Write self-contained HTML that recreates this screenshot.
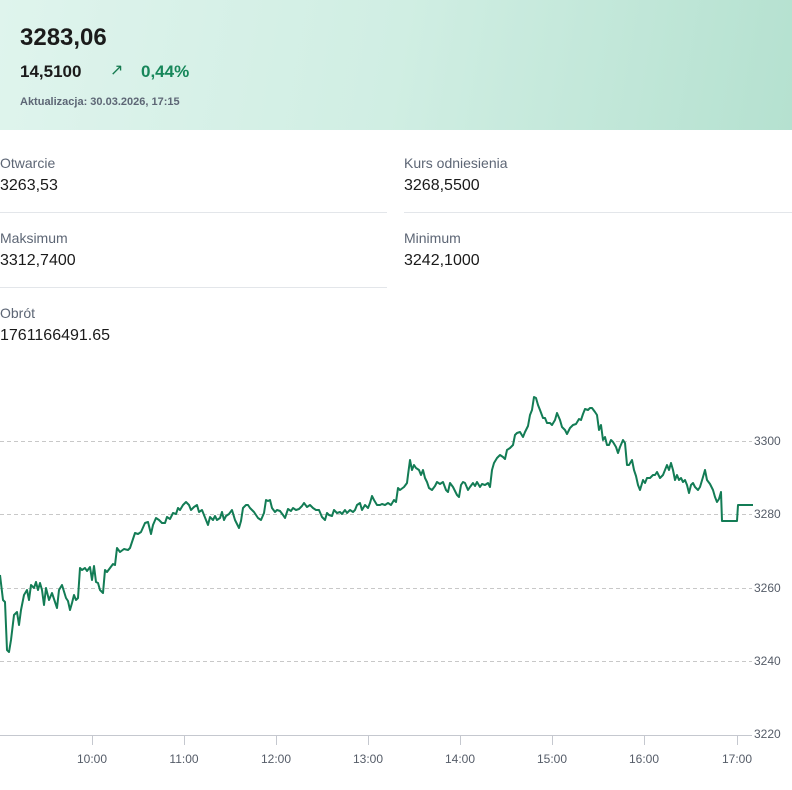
<!DOCTYPE html>
<html><head><meta charset="utf-8"><style>
body{margin:0;width:792px;height:790px;background:#fff;font-family:"Liberation Sans",sans-serif;overflow:hidden;position:relative}
.hdr{position:absolute;left:0;top:0;width:792px;height:130px;background:linear-gradient(100deg,#dff4ed 0%,#d0eee3 50%,#b5e1d0 100%)}
.t{position:absolute;white-space:nowrap}
.lbl{color:#5d6675;font-size:14px}
.val{color:#1a1a1a;font-size:16px}
.ln{position:absolute;height:1px;background:#e3e6ea}
</style></head><body>
<div class="hdr">
<div class="t" style="left:20px;top:24px;font-size:24px;font-weight:bold;color:#1b1b1b">3283,06</div>
<div class="t" style="left:20px;top:62px;font-size:17px;font-weight:bold;color:#1b1b1b">14,5100</div>
<div class="t" style="left:110px;top:60px;font-size:16px;color:#157a4f">↗</div>
<div class="t" style="left:141px;top:62px;font-size:17px;font-weight:bold;color:#17875a">0,44%</div>
<div class="t" style="left:20px;top:96px;font-size:11px;font-weight:bold;color:#5d6675">Aktualizacja: 30.03.2026, 17:15</div>
</div>
<div class="t lbl" style="left:0;top:155px">Otwarcie</div>
<div class="t val" style="left:0;top:177px">3263,53</div>
<div class="t lbl" style="left:404px;top:155px">Kurs odniesienia</div>
<div class="t val" style="left:404px;top:177px">3268,5500</div>
<div class="ln" style="left:0;top:212px;width:387px"></div>
<div class="ln" style="left:404px;top:212px;width:388px"></div>
<div class="t lbl" style="left:0;top:230px">Maksimum</div>
<div class="t val" style="left:0;top:252px">3312,7400</div>
<div class="t lbl" style="left:404px;top:230px">Minimum</div>
<div class="t val" style="left:404px;top:252px">3242,1000</div>
<div class="ln" style="left:0;top:287px;width:387px"></div>
<div class="t lbl" style="left:0;top:305px">Obrót</div>
<div class="t val" style="left:0;top:327px">1761166491.65</div>
<svg style="position:absolute;left:0;top:0" width="792" height="790">
<g stroke="#c8c8c8" stroke-dasharray="4,3" stroke-width="1">
<line x1="0" y1="441.5" x2="752" y2="441.5"/><line x1="0" y1="514.5" x2="752" y2="514.5"/>
<line x1="0" y1="588.5" x2="752" y2="588.5"/><line x1="0" y1="661.5" x2="752" y2="661.5"/>
</g>
<line x1="0" y1="735.5" x2="752" y2="735.5" stroke="#c5c8cf"/>
<g stroke="#c5c8cf">
<line x1="92.5" y1="735" x2="92.5" y2="745"/><line x1="184.5" y1="735" x2="184.5" y2="745"/><line x1="276.5" y1="735" x2="276.5" y2="745"/><line x1="368.5" y1="735" x2="368.5" y2="745"/><line x1="460.5" y1="735" x2="460.5" y2="745"/><line x1="552.5" y1="735" x2="552.5" y2="745"/><line x1="644.5" y1="735" x2="644.5" y2="745"/><line x1="737.5" y1="735" x2="737.5" y2="745"/>
</g>
<g font-family="Liberation Sans,sans-serif" font-size="12" fill="#555c68">
<text x="754" y="445">3300</text><text x="754" y="518">3280</text><text x="754" y="592">3260</text><text x="754" y="665">3240</text><text x="754" y="738">3220</text>
<g text-anchor="middle"><text x="92" y="763">10:00</text><text x="184" y="763">11:00</text><text x="276" y="763">12:00</text><text x="368" y="763">13:00</text><text x="460" y="763">14:00</text><text x="552" y="763">15:00</text><text x="644" y="763">16:00</text><text x="737" y="763">17:00</text></g>
</g>
<polyline fill="none" stroke="#137c55" stroke-width="2" stroke-linejoin="round" points="0,575 3,600 5,602 7,650 9,652 11,640 14,615 17,612 19,625 21,610 24,595 27,590 29,600 31,585 34,588 36,582 38,590 40,583 42,590 44,605 46,588 49,600 52,593 55,602 57,608 59,590 62,585 66,598 68,601 70,610 72,603 74,595 76,600 78,598 80,568 82,570 85,568 87,571 90,567 92,580 94,566 96,582 98,583 100,590 103,593 105,570 107,572 110,568 113,564 115,565 117,548 120,552 124,549 128,550 130,548 135,533 138,534 141,532 145,523 148,522 151,534 153,525 156,518 159,520 162,523 165,523 167,517 170,519 173,513 176,514 178,508 180,510 183,505 186,502 189,505 191,510 194,507 197,505 199,512 202,510 206,520 208,525 210,517 213,520 215,516 217,520 220,518 222,512 224,520 226,516 229,514 232,510 235,520 239,528 241,521 243,508 246,505 248,505 250,508 254,512 258,518 261,520 264,513 266,500 268,501 270,500 272,508 275,512 277,510 280,511 283,515 285,518 288,509 291,511 293,508 296,510 299,509 302,506 304,503 307,507 310,505 313,508 316,510 319,510 322,517 325,520 327,513 329,515 332,516 334,510 337,513 340,512 342,514 345,510 347,513 350,510 353,512 355,510 357,505 360,503 362,510 365,505 368,508 370,503 372,496 374,500 377,505 380,505 382,504 385,505 388,503 391,505 394,500 396,502 398,488 400,490 404,487 407,483 408,475 410,460 412,470 414,465 416,468 419,470 421,475 423,470 425,478 427,482 429,488 432,490 435,486 437,482 440,484 443,482 446,490 448,492 450,483 453,487 457,495 459,497 461,485 463,482 465,483 468,490 470,487 473,483 475,486 477,482 480,487 482,484 485,485 488,483 490,487 492,470 494,463 497,458 500,455 503,457 505,459 507,450 510,448 513,445 515,435 517,433 520,432 523,437 525,432 528,426 530,415 532,410 534,397 536,398 538,405 540,410 543,418 545,418 547,423 550,423 552,425 555,420 557,413 560,420 562,427 565,430 567,434 570,428 573,425 576,424 579,419 581,420 583,414 585,409 588,410 590,408 592,408 595,412 597,415 599,430 601,425 603,440 605,437 607,445 609,445 611,440 613,442 616,447 618,453 620,447 623,440 625,443 627,465 629,465 632,460 634,470 636,476 638,485 640,490 643,480 645,483 647,478 650,478 653,475 655,475 657,472 660,478 663,475 665,470 667,465 669,470 671,463 673,470 675,480 677,475 679,480 681,478 683,482 685,480 687,485 689,493 691,485 693,483 695,487 698,490 700,487 703,477 705,470 707,480 710,484 713,490 715,497 717,502 719,499 721,492 722,521 737,521 738,505 753,505"/>
</svg>
</body></html>
